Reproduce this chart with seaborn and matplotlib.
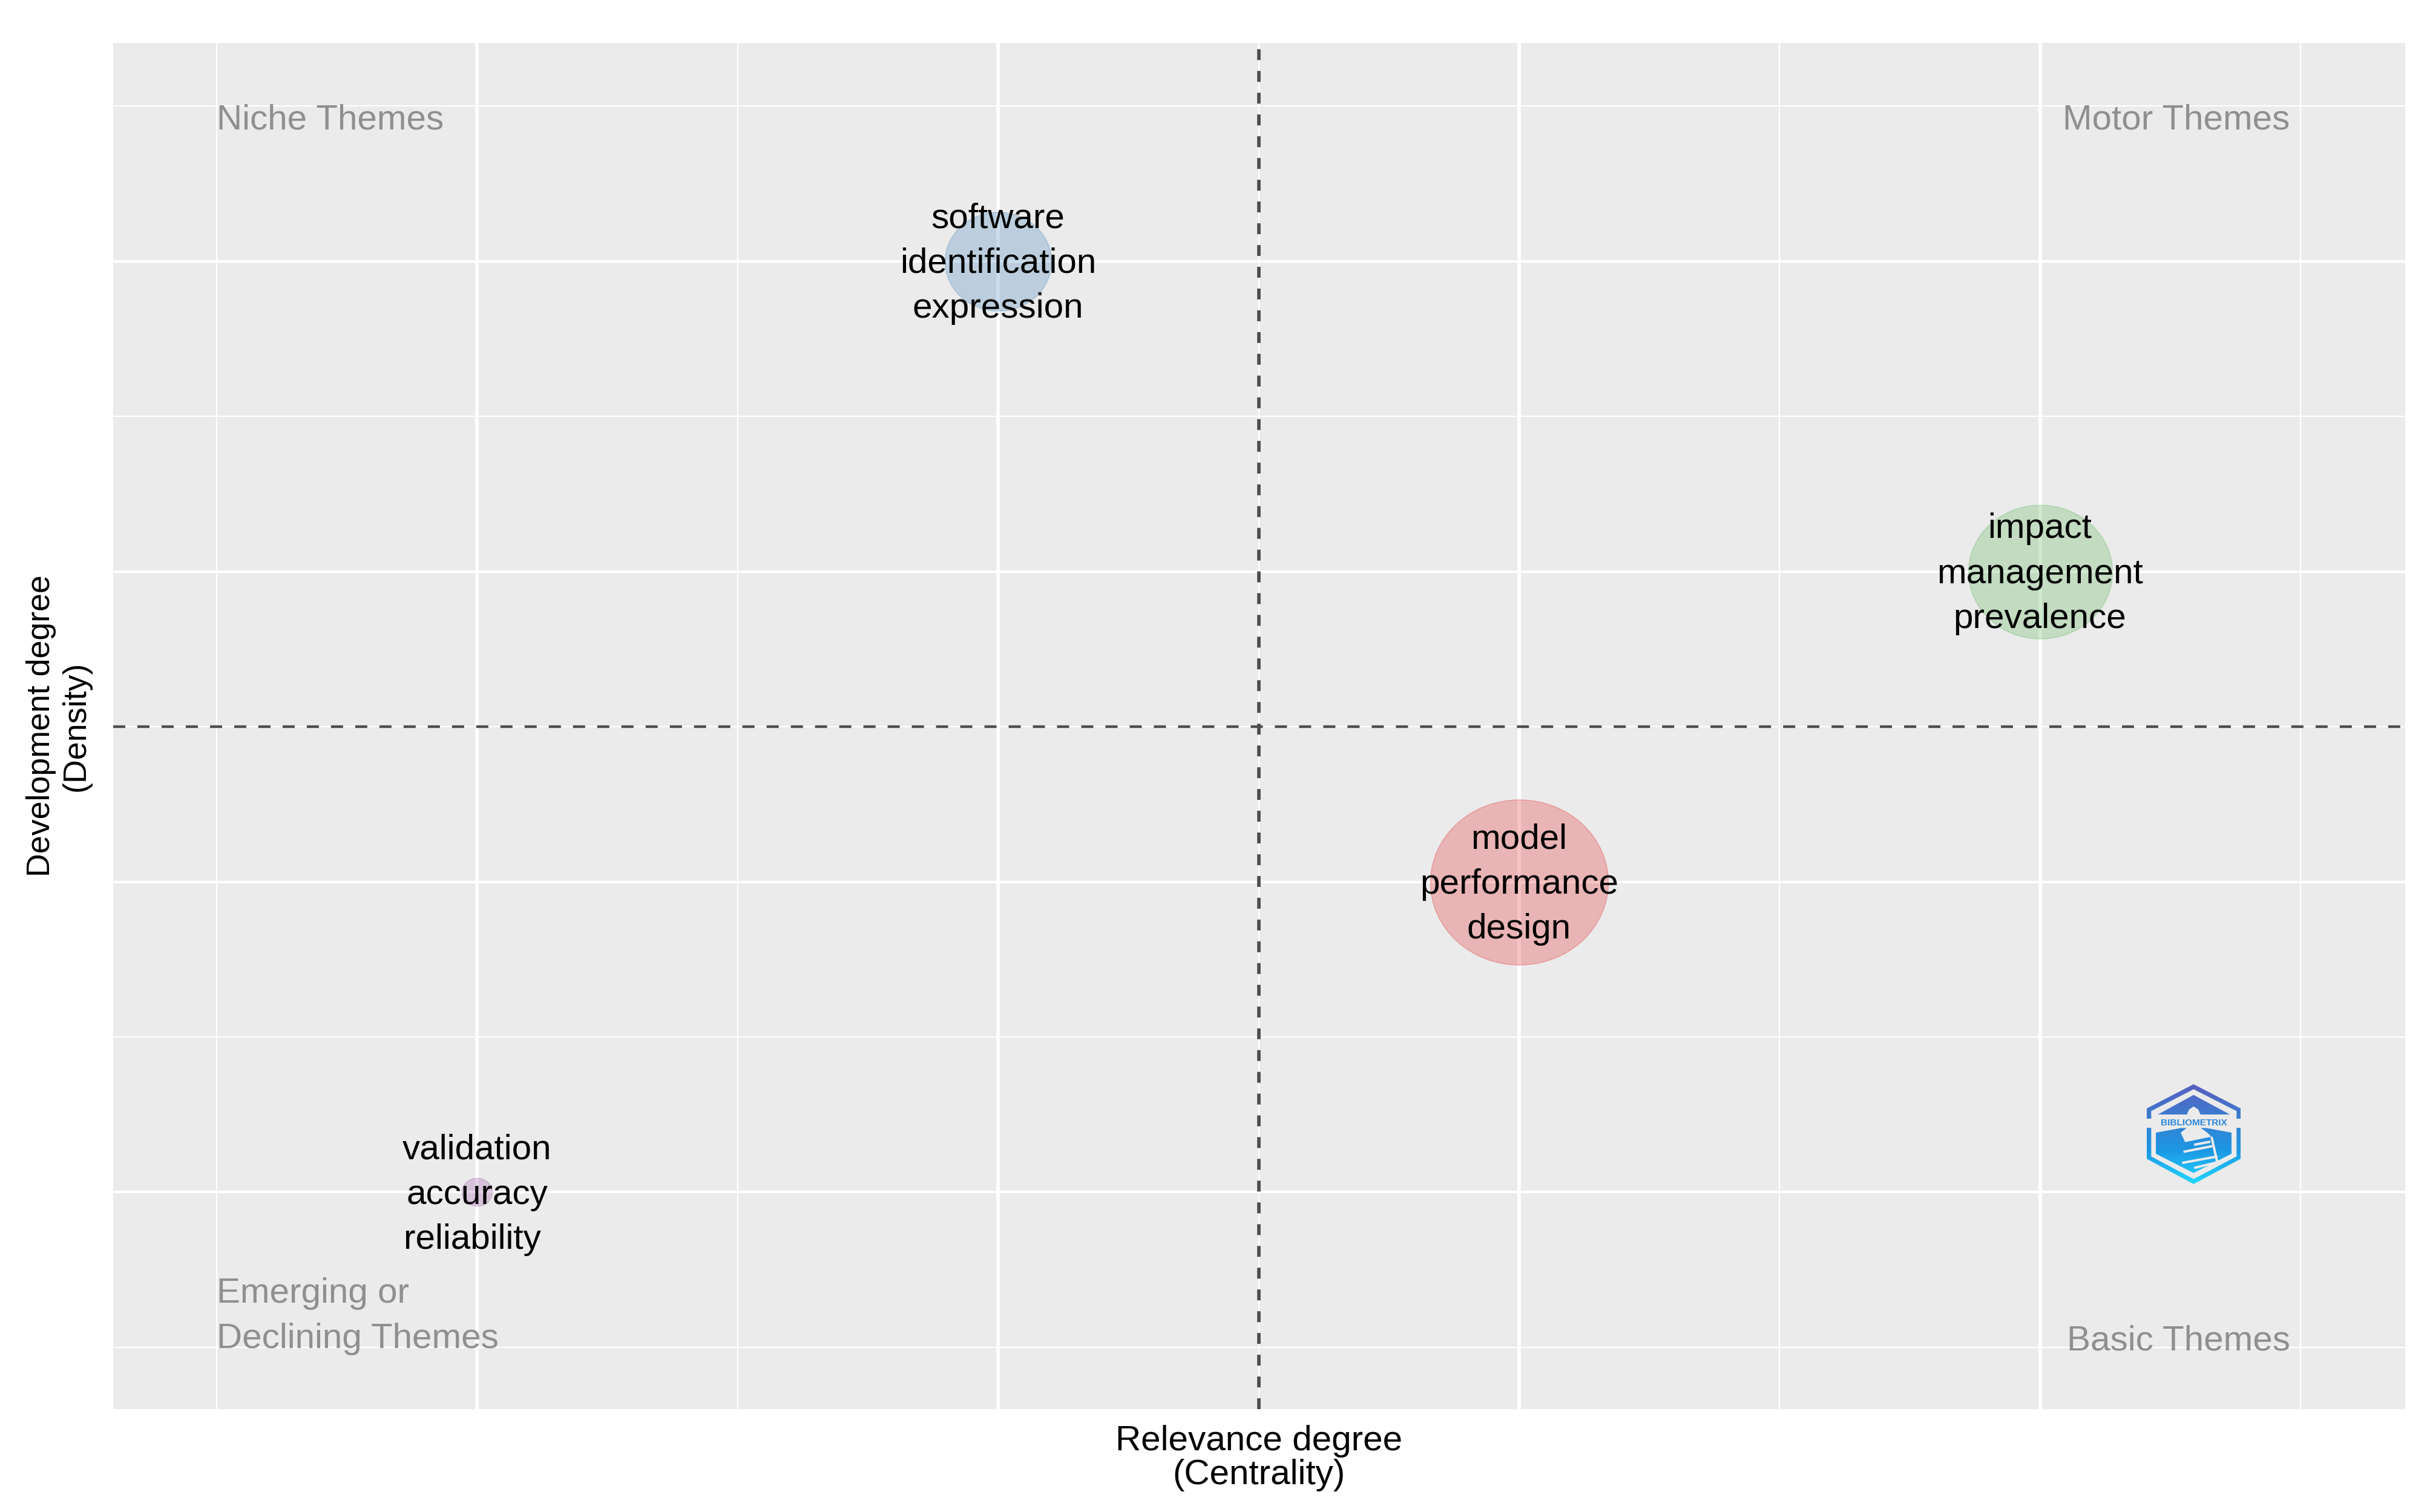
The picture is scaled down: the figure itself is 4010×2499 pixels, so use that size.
import numpy as np
import pandas as pd
import matplotlib
matplotlib.use("Agg")
import matplotlib.pyplot as plt
import seaborn as sns
from matplotlib.path import Path
from matplotlib.transforms import Affine2D
from matplotlib.patches import Polygon, PathPatch

centrality_rank = [1, 2, 3, 4]
density_rank = [1, 4, 2, 3]
bubble_area = [144, 1784, 4978, 3262]
cluster_colors = ["#984ea3", "#377eb8", "#e41a1c", "#4daf4a"]
cluster_labels = ["validation\naccuracy\nreliability ",
                  "software\nidentification\nexpression",
                  "model\nperformance\ndesign",
                  "impact\nmanagement\nprevalence"]
mean_x = 2.5
mean_y = 2.5
major_ticks = [1, 2, 3, 4]
minor_ticks = [0.5, 1.5, 2.5, 3.5, 4.5]
x_label = "Relevance degree\n(Centrality)"
y_label = "Development degree\n(Density)"

df = pd.DataFrame({"x": centrality_rank, "y": density_rank, "area": bubble_area,
                   "color": cluster_colors, "label": cluster_labels})

sns.set_theme(style="white")
plt.rcParams["font.family"] = ["Liberation Sans", "DejaVu Sans"]

fig = plt.figure(figsize=(4011 / 300, 2499 / 300), dpi=300)
L, R, T, B = 187, 3974, 71, 2329
ax = fig.add_axes([L / 4011, 1 - B / 2499, (R - L) / 4011, (B - T) / 2499])
ax.set_facecolor("#ebebeb")
for s in ax.spines.values():
    s.set_visible(False)
ax.set_xlim(0.3013, 4.701)
ax.set_ylim(0.301, 4.703)
ax.set_xticks(major_ticks)
ax.set_yticks(major_ticks)
ax.set_xticks(minor_ticks, minor=True)
ax.set_yticks(minor_ticks, minor=True)
ax.tick_params(which="both", length=0, labelbottom=False, labelleft=False)
ax.grid(which="major", axis="x", color="white", lw=1.4)
ax.grid(which="major", axis="y", color="white", lw=1.03)
ax.grid(which="minor", axis="x", color="white", lw=0.55)
ax.grid(which="minor", axis="y", color="white", lw=0.48)
ax.set_axisbelow(True)

ellipse = Path.unit_circle().transformed(Affine2D().scale(1.077, 1.0))
for _, r in df.iterrows():
    sns.scatterplot(x=[r.x], y=[r.y], s=r.area, color=r.color, alpha=0.26,
                    marker=ellipse, edgecolor=r.color, linewidth=0.4, ax=ax,
                    legend=False, zorder=3)
    ax.text(r.x, r.y - 0.008, r.label, ha="center", va="center", fontsize=14,
            linespacing=1.48, color="black", zorder=5)

ax.axvline(mean_x, color="#4d4d4d", ls=(0, (3.15, 3.15)), lw=1.37, zorder=2)
ax.axhline(mean_y, color="#4d4d4d", ls=(0, (4.57, 4.57)), lw=1.05, zorder=2)

grey = "#8f8f8f"
ax.text(0.5, 4.455, "Niche Themes", color=grey, fontsize=14, ha="left", va="center")
ax.text(4.48, 4.455, "Motor Themes", color=grey, fontsize=14, ha="right", va="center")
ax.text(4.48, 0.52, "Basic Themes", color=grey, fontsize=14, ha="right", va="center")
ax.text(0.5, 0.6, "Emerging or\nDeclining Themes", color=grey, fontsize=14,
        ha="left", va="center", linespacing=1.5)

ax.set_xlabel("")
ax.set_ylabel("")
fig.text((L + R) / 2 / 4011, 1 - 2410 / 2499, x_label, ha="center", va="center",
         fontsize=14, linespacing=1.04, color="black")
fig.text(97 / 4011, 1 - 1200 / 2499, y_label, ha="center", va="center", rotation=90,
         fontsize=12.9, linespacing=1.19, color="black")

# logo drawn as vector: gradient hexagon with a grey ring and a lighthouse
lx0, lx1, ly0, ly1 = 3547, 3702, 1792, 1957
lax = fig.add_axes([lx0 / 4011, 1 - ly1 / 2499, (lx1 - lx0) / 4011, (ly1 - ly0) / 2499])
lax.set_xlim(0, 1); lax.set_ylim(0, 1); lax.axis("off")


def f(pts):
    return [((x - 290) / 465, 1 - (y - 125) / 495) for x, y in pts]


grad = np.linspace(0, 1, 256)[:, None]
cmap = matplotlib.colors.LinearSegmentedColormap.from_list(
    "logo", ["#5a5fc0", "#3a7ed0", "#1c98e4", "#22d8ff"])
bg = "#ebebeb"
outer = Polygon(f([(522, 125), (755, 245), (755, 495), (522, 620), (290, 495), (290, 245)]),
                fc="none", ec="none")
lax.add_patch(outer)
im = lax.imshow(grad, extent=(0, 1, 0, 1), aspect="auto", cmap=cmap, zorder=1)
im.set_clip_path(outer)
lax.add_patch(Polygon(f([(522, 150), (735, 258), (735, 483), (522, 595), (312, 483), (312, 258)]),
                      fc=bg, ec="none", zorder=2))
tri = f([(522, 178), (702, 275), (345, 275)])
low = f([(335, 365), (460, 342), (585, 342), (710, 365), (710, 470), (522, 565), (335, 470)])
comp = Path.make_compound_path(Path(tri + [tri[0]], closed=True), Path(low + [low[0]], closed=True))
inner = PathPatch(comp, fc="none", ec="none", transform=lax.transData)
lax.add_patch(inner)
im2 = lax.imshow(grad, extent=(0, 1, 0, 1), aspect="auto", cmap=cmap, zorder=3)
im2.set_clip_path(inner)
lax.set_xlim(0, 1); lax.set_ylim(0, 1)
lax.add_patch(Polygon(f([(522, 235), (545, 250), (555, 272), (555, 300), (490, 300), (490, 272), (500, 250)]),
                      fc=bg, ec="none", zorder=4))
lax.add_patch(Polygon(f([(290, 295), (755, 295), (755, 340), (290, 340)]), fc=bg, ec="none", zorder=4))
lax.add_patch(Polygon(f([(490, 340), (555, 340), (590, 365), (610, 385), (480, 412), (458, 365)]),
                      fc=bg, ec="none", zorder=4))
for pts in ([(525, 425), (605, 410)], [(472, 460), (615, 432)], [(465, 515), (640, 483)],
            [(525, 540), (640, 512)]):
    lax.plot(*zip(*f(pts)), color=bg, lw=0.95, zorder=5, solid_capstyle="butt")
lax.plot(*zip(*f([(612, 390), (640, 515)])), color=bg, lw=0.95, zorder=5)
lax.text(0.5, 1 - (318 - 125) / 495, "BIBLIOMETRIX", fontsize=3.7, fontweight="bold",
         color="#2a86d8", ha="center", va="center", zorder=6)

fig.savefig("out.png", dpi=300, facecolor="white")
